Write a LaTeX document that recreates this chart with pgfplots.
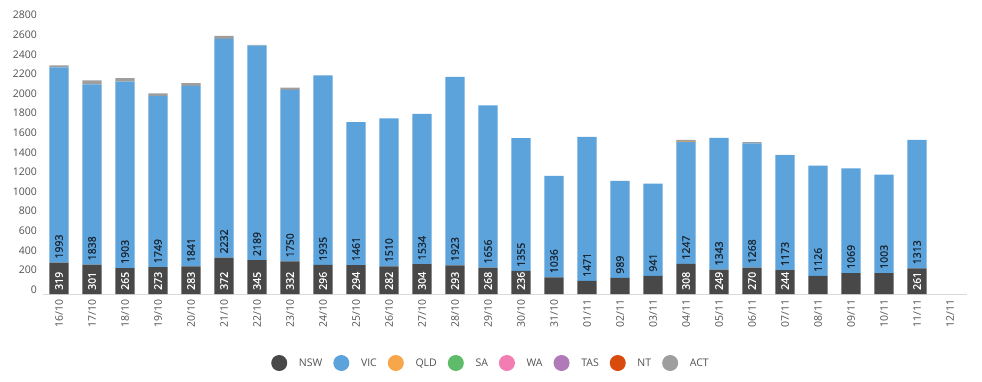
\documentclass[border=0pt]{standalone}
\usepackage{fontspec}
\setmainfont{Open Sans}
\newfontfamily\labfont[FakeBold=1.2]{Open Sans}
\usepackage{pgfplots}
\usepackage{pgfplotstable}
\pgfplotsset{compat=1.18}
\definecolor{cNSW}{HTML}{484848}
\definecolor{cVIC}{HTML}{5BA3DA}
\definecolor{cQLD}{HTML}{F7A64A}
\definecolor{cSA}{HTML}{5EBB6A}
\definecolor{cWA}{HTML}{F27DB2}
\definecolor{cTAS}{HTML}{B07AB8}
\definecolor{cNT}{HTML}{D84B0C}
\definecolor{cACT}{HTML}{9E9E9E}
\definecolor{tickgray}{HTML}{505050}
\definecolor{axgray}{HTML}{D9D9D9}
\definecolor{labnavy}{HTML}{1A2633}
\newcommand\fs{\fontsize{10.5}{12}\selectfont}

\pgfplotstableread{
x NSW VIC QLD SA WA TAS NT ACT
0 319 1993 0 0 0 0 0 20
1 301 1838 0 0 0 0 0 40
2 265 1903 0 0 0 0 0 34
3 273 1749 0 0 0 0 0 24
4 283 1841 0 0 0 0 0 27
5 372 2232 0 0 0 0 0 31
6 345 2189 0 0 0 0 0 8
7 332 1750 0 0 0 0 0 25
8 296 1935 0 0 0 0 0 0
9 294 1461 0 0 0 0 0 0
10 282 1510 0 0 0 0 0 0
11 304 1534 0 0 0 0 0 0
12 293 1923 0 0 0 0 0 0
13 268 1656 0 0 0 0 0 0
14 236 1355 0 0 0 0 0 0
15 170 1036 0 0 0 0 0 0
16 133 1471 0 0 0 0 0 0
17 165 989 0 0 0 0 0 0
18 186 941 0 0 0 0 0 0
19 308 1247 5 0 0 0 0 12
20 249 1343 0 0 0 0 0 0
21 270 1268 0 0 0 0 0 12
22 244 1173 0 0 0 0 0 3
23 184 1126 0 0 0 0 0 0
24 214 1069 0 0 0 0 0 0
25 214 1003 0 0 0 0 0 0
26 261 1313 0 0 0 0 0 0
}\data

\pgfplotsset{
  base/.style={
    at={(42.5pt,87pt)}, anchor=south west,
    scale only axis, width=924pt, height=274.4pt,
    xmin=-0.5, xmax=27.5, ymin=0, ymax=2800,
    /pgf/number format/assume math mode=true,
    /pgf/number format/1000 sep={},
  },
  legimg/.style={legend image code/.code={\fill[##1, draw=none] (8pt,0pt) circle (8pt);}},
}

\begin{document}
\begin{tikzpicture}
\path[use as bounding box] (0,0) rectangle (982pt,381pt);
\begin{axis}[base,
  ybar stacked, bar width=19.3pt,
  axis x line*=bottom, axis y line*=left,
  y axis line style={draw=none}, x axis line style={draw=axgray, line width=0.8pt},
  tick style={draw=none},
  xtick={0,...,27},
  xticklabels={16/10,17/10,18/10,19/10,20/10,21/10,22/10,23/10,24/10,25/10,26/10,27/10,28/10,29/10,30/10,31/10,01/11,02/11,03/11,04/11,05/11,06/11,07/11,08/11,09/11,10/11,11/11,12/11},
  xticklabel style={rotate=90, anchor=east, font=\fs, text=tickgray, inner xsep=5.3pt, inner ysep=0pt},
  ytick={0,200,...,2800},
  yticklabel style={anchor=east, font=\fs, text=tickgray, inner sep=0pt, xshift=-5.5pt, yshift=4.5pt},
  legend columns=8,
  legend style={draw=none, fill=none, font=\fs, text=tickgray,
    at={(0.4843,-0.2515)}, anchor=center,
    /tikz/every odd column/.append style={column sep=11.7pt},
    /tikz/every even column/.append style={column sep=11pt},
    nodes={inner sep=0pt}},
]
\addplot[fill=cNSW, draw=none, legimg] table[x=x, y=NSW] {\data};
\addplot[fill=cVIC, draw=none, legimg] table[x=x, y=VIC] {\data};
\addplot[fill=cQLD, draw=none, legimg] table[x=x, y=QLD] {\data};
\addplot[fill=cSA, draw=none, legimg] table[x=x, y=SA] {\data};
\addplot[fill=cWA, draw=none, legimg] table[x=x, y=WA] {\data};
\addplot[fill=cTAS, draw=none, legimg] table[x=x, y=TAS] {\data};
\addplot[fill=cNT, draw=none, legimg] table[x=x, y=NT] {\data};
\addplot[fill=cACT, draw=none, legimg] table[x=x, y=ACT] {\data};
\legend{NSW,VIC,QLD,SA,WA,TAS,NT,ACT}
\end{axis}
\begin{axis}[base, hide axis,
  every node near coord/.append style={rotate=90, anchor=west, inner xsep=4pt, inner ysep=0pt, font=\labfont\fs},
]
\addplot[draw=none, mark=none, nodes near coords, point meta=explicit,
  restrict x to domain=-1:28,
  every node near coord/.append style={text=white}]
  table[x expr={\thisrow{NSW}<220 ? -10 : \thisrow{x}}, y expr=0, meta=NSW] {\data};
\addplot[draw=none, mark=none, nodes near coords, point meta=explicit,
  every node near coord/.append style={text=labnavy}]
  table[x=x, y=NSW, meta=VIC] {\data};
\end{axis}
\end{tikzpicture}
\end{document}
